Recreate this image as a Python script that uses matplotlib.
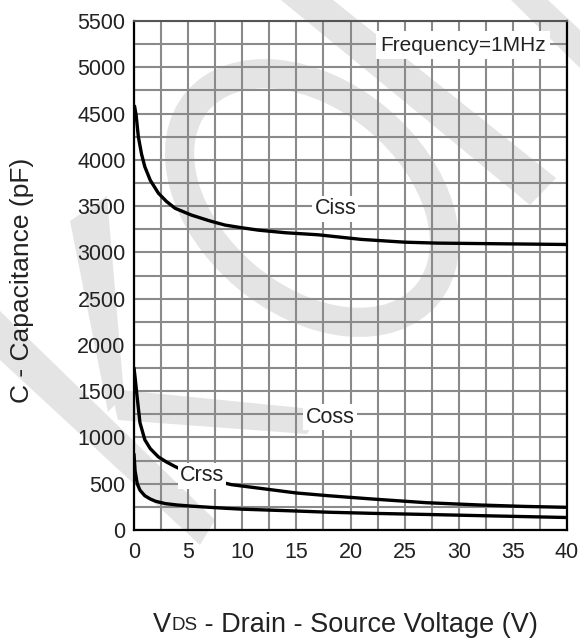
import numpy as np
import matplotlib
matplotlib.use('Agg')
import matplotlib.pyplot as plt
from matplotlib.patches import Polygon, Ellipse
from matplotlib.transforms import IdentityTransform

plt.rcParams['font.family'] = ['Liberation Sans', 'DejaVu Sans']

# Values
ciss_v = [0.05, 0.2, 0.4, 0.7, 1.0, 1.5, 2.25, 3.0, 3.8, 5.3, 7.0, 8.4, 10, 11.5, 14, 17, 21, 25, 28, 32, 36, 40]
ciss_c = [4580, 4480, 4250, 4060, 3925, 3780, 3640, 3550, 3476, 3403, 3340, 3295, 3265, 3240, 3212, 3190, 3140, 3110, 3100, 3095, 3090, 3085]

coss_v = [0.0, 0.1, 0.25, 0.55, 1.0, 1.5, 2.25, 3.0, 3.8, 5.0, 6.5, 9.0, 12, 15, 18, 22, 27, 32, 36, 40]
coss_c = [1750, 1650, 1480, 1160, 975, 880, 790, 735, 685, 620, 560, 490, 445, 400, 370, 335, 295, 270, 255, 245]

crss_v = [0.0, 0.1, 0.3, 0.55, 1.0, 1.5, 2.0, 2.9, 4.0, 5.3, 7.0, 8.4, 10, 12.5, 15, 18, 22, 27, 32, 36, 40]
crss_c = [820, 640, 500, 430, 370, 335, 310, 285, 270, 258, 245, 235, 225, 215, 205, 192, 180, 168, 155, 145, 135]

x_ticks = [0, 5, 10, 15, 20, 25, 30, 35, 40]
y_ticks = [0, 500, 1000, 1500, 2000, 2500, 3000, 3500, 4000, 4500, 5000, 5500]

W, H = 580, 642
fig = plt.figure(figsize=(W / 100, H / 100), dpi=100)

# light grey watermark behind the chart (pixel coords, top-left origin)
wm = '#e4e4e4'
def px(pts):
    return [(x, H - y) for x, y in pts]

bands = [
    [(281, 0), (333, 0), (556, 178), (530, 205)],
    [(511, 0), (548, 0), (580, 30), (580, 68)],
    [(0, 311), (215, 520), (200, 545), (0, 360)],
    [(70, 221), (107, 196), (124, 395), (108, 412)],
    [(111, 389), (322, 410), (307, 434), (118, 420)],
]
for b in bands:
    fig.add_artist(Polygon(px(b), closed=True, facecolor=wm, edgecolor='none',
                           transform=IdentityTransform(), zorder=-5))
fig.add_artist(Ellipse((312, H - 198), 300, 205, angle=-40, fill=False,
                       edgecolor=wm, linewidth=21, transform=IdentityTransform(), zorder=-5))

ax = fig.add_axes([134 / W, 1 - 530 / H, 433 / W, 509 / H])
ax.set_facecolor('none')

ax.plot(ciss_v, ciss_c, color='black', lw=2.4, zorder=3, solid_capstyle='round')
ax.plot(coss_v, coss_c, color='black', lw=2.4, zorder=3, solid_capstyle='round')
ax.plot(crss_v, crss_c, color='black', lw=2.4, zorder=3, solid_capstyle='round')

ax.set_xlim(0, 40)
ax.set_ylim(0, 5500)
ax.set_xticks(x_ticks)
ax.set_yticks(y_ticks)
ax.set_xticks(np.arange(0, 40.1, 2.5), minor=True)
ax.set_yticks(np.arange(0, 5501, 250), minor=True)
ax.grid(which='both', color='#8a8a8a', lw=1.5, zorder=1)
ax.set_axisbelow(True)
ax.tick_params(which='both', length=0, labelsize=15.5, colors='#222222')
ax.tick_params(axis='y', pad=6)
ax.tick_params(axis='x', pad=9)

for s in ['left', 'bottom', 'right']:
    ax.spines[s].set_color('black')
    ax.spines[s].set_linewidth(1.6)
ax.spines['top'].set_color('#555555')
ax.spines['top'].set_linewidth(1.5)

box = dict(facecolor='white', edgecolor='none', pad=1.5)
ax.text(18.6, 3470, 'Ciss', fontsize=15.5, ha='center', va='center', color='#222222', bbox=box, zorder=4)
ax.text(18.1, 1221, 'Coss', fontsize=15.5, ha='center', va='center', color='#222222', bbox=box, zorder=4)
ax.text(6.3, 584, 'Crss', fontsize=15.5, ha='center', va='center', color='#222222', bbox=box, zorder=4)
ax.text(30.4, 5240, 'Frequency=1MHz', fontsize=15, ha='center', va='center', color='#222222',
        bbox=dict(facecolor='white', edgecolor='none', pad=3), zorder=4)

fig.text(22 / W, 1 - 280 / H, 'C - Capacitance (pF)', rotation=90, fontsize=19,
         ha='center', va='center', color='#222222')

# x label with small "DS"
xl_y = 1 - 625 / H
t1 = fig.text(153 / W, xl_y, 'V', fontsize=19.5, ha='left', va='center', color='#222222')
fig.canvas.draw()
r = fig.canvas.get_renderer()
bb = t1.get_window_extent(r)
t2 = fig.text(bb.x1 / W, xl_y, 'DS', fontsize=13.5, ha='left', va='center', color='#222222')
t2.set_position((bb.x1 / W, (bb.y0 + 0.32 * bb.height) / H))
t2.set_va('bottom')
t2.set_position((bb.x1 / W, (bb.y0 + 0.14 * bb.height) / H))
bb2 = t2.get_window_extent(r)
fig.text(bb2.x1 / W, xl_y, ' - Drain - Source Voltage (V)', fontsize=19.5, ha='left',
         va='center', color='#222222')

fig.savefig('out.png', dpi=100)
